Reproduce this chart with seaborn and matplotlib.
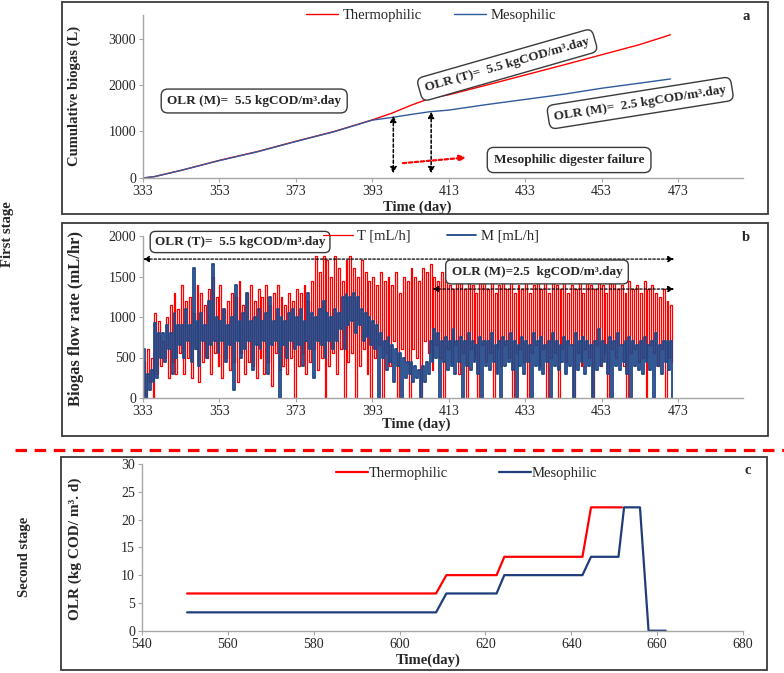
import numpy as np
import pandas as pd
import matplotlib
matplotlib.use("Agg")
import matplotlib.pyplot as plt
import seaborn as sns
from matplotlib.patches import Rectangle
from matplotlib.lines import Line2D

# style
sns.set_style("white")
plt.rcParams["font.family"] = ["Liberation Serif", "DejaVu Serif"]

RED = "#FF0000"
BLUE_A = "#2F5A9E"
BLUE_B = "#1F4788"
BLUE_C = "#1F3D7A"

# ---- data: panel a (cumulative biogas, L) ----
days_a = [333, 336, 343, 353, 363, 373, 383, 393, 398, 403, 408, 413, 423, 433, 443, 453, 463, 471]
cum_T = [0, 30, 165, 380, 570, 790, 1000, 1250, 1390, 1560, 1710, 1790, 2000, 2215, 2430, 2650, 2870, 3080]
cum_M = [0, 30, 165, 375, 565, 785, 995, 1245, 1300, 1365, 1425, 1460, 1580, 1690, 1800, 1930, 2040, 2130]

# ---- data: panel b (biogas flow rate, mL/h), daily peak / trough, days 333..471 ----
days_b = list(range(333, 472))
T_hi = [450, 600, 500, 1050, 950, 700, 1000, 1150, 1300, 1100,
        1400, 1200, 1250, 1050, 1400, 1300, 1150, 1350, 1500, 1250,
        1400, 1100, 1200, 1300, 1250, 1450, 1150, 1300, 1400, 1200,
        1350, 1250, 1400, 1150, 1300, 1400, 1250, 1150, 1300, 1200,
        1350, 1300, 1400, 1200, 1450, 1750, 1550, 1750, 1700, 1500,
        1750, 1600, 1450, 1700, 1750, 1600, 1500, 1700, 1550, 1450,
        1500, 1400, 1550, 1450, 1500, 1400, 1550, 1300, 1500, 1450,
        1600, 1500, 1450, 1600, 1550, 1650, 1500, 1450, 1550, 1500,
        1400, 1350, 1500, 1450, 1350, 1500, 1400, 1300, 1450, 1500,
        1350, 1450, 1300, 1400, 1500, 1350, 1450, 1300, 1400, 1350,
        1450, 1300, 1400, 1500, 1350, 1450, 1300, 1550, 1400, 1350,
        1450, 1300, 1400, 1350, 1500, 1300, 1450, 1400, 1350, 1450,
        1400, 1300, 1450, 1650, 1350, 1400, 1300, 1450, 1350, 1400,
        1300, 1450, 1350, 1400, 1300, 1250, 1350, 1200, 1150]
T_lo = [0, 200, 0, 300, 400, 500, 250, 450, 300, 550,
        300, 500, 250, 600, 200, 450, 500, 300, 550, 400,
        250, 500, 350, 450, 200, 550, 300, 450, 400, 250,
        500, 300, 450, 150, 550, 350, 400, 300, 500, 0,
        400, 550, 300, 450, 600, 350, 500, 0, 400, 550,
        300, 600, 0, 450, 550, 0, 400, 600, 300, 0,
        500, 650, 0, 550, 400, 700, 0, 600, 450, 0,
        600, 500, 0, 700, 550, 350, 650, 500, 0, 600,
        450, 650, 300, 550, 0, 600, 500, 0, 650, 450,
        550, 0, 600, 400, 650, 500, 0, 550, 600, 450,
        0, 550, 650, 400, 600, 0, 500, 550, 0, 600,
        450, 650, 0, 550, 400, 600, 500, 0, 650, 400,
        550, 0, 600, 500, 650, 400, 0, 550, 600, 450,
        500, 0, 650, 550, 400, 600, 0, 500, 450]
M_hi = [600, 300, 350, 930, 800, 800, 900, 800, 1050, 900,
        900, 1100, 900, 1600, 950, 1050, 900, 1200, 1650, 1000,
        950, 1100, 900, 1000, 1400, 950, 1050, 1300, 950, 1000,
        1100, 950, 1050, 1250, 950, 1100, 1000, 950, 1050, 1100,
        1000, 1100, 950, 1300, 1050, 1000, 1100, 1200, 1050, 1000,
        1100, 1050, 1250, 1280, 1250, 1300, 1250, 1100, 1050, 1000,
        950, 900, 800, 700, 750, 650, 600, 550, 500, 450,
        450, 400, 350, 400, 450, 700, 850, 800, 700, 750,
        700, 850, 700, 750, 700, 800, 700, 650, 750, 700,
        700, 800, 650, 700, 750, 700, 800, 700, 650, 750,
        700, 650, 800, 700, 750, 650, 700, 800, 700, 650,
        750, 700, 650, 800, 700, 750, 700, 650, 700, 850,
        700, 650, 750, 700, 800, 650, 700, 750, 700, 650,
        700, 750, 650, 700, 800, 650, 700, 700, 700]
M_lo = [0, 100, 200, 250, 500, 450, 600, 300, 500, 650,
        500, 700, 450, 600, 400, 700, 500, 650, 700, 550,
        700, 450, 650, 100, 700, 500, 600, 700, 350, 650,
        600, 700, 300, 650, 700, 0, 650, 500, 700, 600,
        650, 400, 700, 600, 250, 700, 650, 500, 700, 600,
        700, 850, 600, 900, 950, 800, 900, 700, 750, 650,
        600, 0, 500, 350, 450, 200, 400, 0, 250, 300,
        200, 250, 0, 200, 300, 450, 500, 0, 450, 350,
        400, 300, 450, 0, 400, 350, 450, 300, 0, 400,
        350, 450, 300, 0, 400, 450, 350, 0, 400, 300,
        450, 0, 400, 350, 300, 450, 0, 400, 350, 450,
        300, 400, 0, 350, 450, 300, 400, 0, 350, 400,
        450, 300, 0, 400, 350, 450, 300, 0, 400, 350,
        300, 450, 350, 0, 400, 300, 450, 350, 0]

# ---- data: panel c (second stage OLR) ----
days_cT = [550.5, 608.5, 610.9, 622.6, 624.4, 642.6, 644.6, 651.8]
olr_T = [6.7, 6.7, 10.0, 10.0, 13.3, 13.3, 22.2, 22.2]
days_cM = [550.5, 608.5, 610.9, 622.6, 624.4, 642.6, 644.6, 651.0, 652.3, 656.0, 658.0, 662.0]
olr_M = [3.3, 3.3, 6.7, 6.7, 10.0, 10.0, 13.3, 13.3, 22.2, 22.2, 0, 0]


def interleave(a, b):
    return np.column_stack([a, b]).ravel()


W, H = 784, 673
fig = plt.figure(figsize=(W / 100, H / 100), dpi=100)


def fx(px):
    return px / W


def fy(py):
    return 1 - py / H


def style_axes(ax):
    sns.despine(ax=ax)
    for s in ["left", "bottom"]:
        ax.spines[s].set_color("#A6A6A6")
        ax.spines[s].set_linewidth(1.0)
    ax.tick_params(axis="both", labelsize=10, length=3, color="#A6A6A6",
                   direction="out", pad=2, bottom=True, left=True)
    ax.set_facecolor("none")


box_kw = dict(boxstyle="round,pad=0.45,rounding_size=0.5", fc="white", ec="#3A3A3A", lw=1.0)
arr_kw = dict(arrowstyle="<|-|>", linestyle=(0, (2, 1.5)), lw=1.1, color="black",
              mutation_scale=9, shrinkA=0, shrinkB=0)

# ---- panel a ----
ax1 = fig.add_axes([fx(143), fy(178), fx(600), fy(15.25) - fy(178)])
df_a = pd.DataFrame({"day": days_a * 2, "val": cum_T + cum_M,
                     "grp": ["Thermophilic"] * len(days_a) + ["Mesophilic"] * len(days_a)})
sns.lineplot(data=df_a, x="day", y="val", hue="grp", palette=[RED, BLUE_A],
             lw=1.0, ax=ax1, legend=True)
ax1.set_xlim(333, 490)
ax1.set_ylim(0, 3500)
ax1.set_xticks(range(333, 474, 20))
ax1.set_yticks(range(0, 3001, 1000))
ax1.set_xlabel("")
ax1.set_ylabel("")
style_axes(ax1)
ax1.legend(loc="center", bbox_to_anchor=(0.48, 1.0), ncol=2, frameon=False,
           fontsize=10.5, handlelength=2.2, columnspacing=2.2, handletextpad=0.3)

ax1.text(362.1, 1656, "OLR (M)=  5.5 kgCOD/m³.day", ha="center", va="center",
         fontsize=9.5, fontweight="bold", bbox=box_kw)
ax1.text(428.3, 2430, "OLR (T)=  5.5 kgCOD/m³.day", ha="center", va="center",
         fontsize=9.5, fontweight="bold", rotation=16, rotation_mode="anchor", bbox=box_kw)
ax1.text(463.1, 1613, "OLR (M)=  2.5 kgCOD/m³.day", ha="center", va="center",
         fontsize=9.5, fontweight="bold", rotation=9, rotation_mode="anchor", bbox=box_kw)
ax1.text(444.5, 387, "Mesophilic digester failure", ha="center", va="center",
         fontsize=9.5, fontweight="bold",
         bbox=dict(boxstyle="round,pad=0.5,rounding_size=0.5", fc="white", ec="#3A3A3A", lw=1.0))
ax1.annotate("", xy=(398.5, 100), xytext=(398.5, 1340), arrowprops=arr_kw)
ax1.annotate("", xy=(408.4, 100), xytext=(408.4, 1425), arrowprops=arr_kw)
ax1.annotate("", xy=(417.5, 440), xytext=(401, 320),
             arrowprops=dict(arrowstyle="-|>", linestyle=(0, (1.5, 1.2)), lw=1.6, color=RED,
                             mutation_scale=9, shrinkA=0, shrinkB=0))

# ---- panel b ----
ax2 = fig.add_axes([fx(143), fy(398), fx(600), fy(236) - fy(398)])
tb = interleave(days_b, np.array(days_b) + 0.5)
sns.lineplot(x=tb, y=interleave(T_hi, T_lo), color=RED, lw=0.9, ax=ax2,
             drawstyle="steps-post", label="T [mL/h]", estimator=None)
sns.lineplot(x=tb, y=interleave(M_hi, M_lo), color=BLUE_B, lw=1.3, ax=ax2,
             drawstyle="steps-post", label="M [mL/h]", estimator=None)
ax2.set_xlim(333, 490)
ax2.set_ylim(0, 2000)
ax2.set_xticks(range(333, 474, 20))
ax2.set_yticks(range(0, 2001, 500))
ax2.set_xlabel("")
ax2.set_ylabel("")
style_axes(ax2)
ax2.legend(loc="center", bbox_to_anchor=(0.48, 1.0), ncol=2, frameon=False,
           fontsize=10.5, handlelength=2.0, columnspacing=2.5, handletextpad=0.3)
ax2.annotate("", xy=(333, 1715), xytext=(472, 1715),
             arrowprops=dict(arr_kw, lw=0.9))
ax2.annotate("", xy=(408.7, 1345), xytext=(472, 1345),
             arrowprops=dict(arr_kw, lw=0.9))
ax2.text(358.4, 1926, "OLR (T)=  5.5 kgCOD/m³.day", ha="center", va="center",
         fontsize=9.5, fontweight="bold",
         bbox=dict(boxstyle="round,pad=0.35,rounding_size=0.4", fc="white", ec="#3A3A3A", lw=1.0))
ax2.text(436.1, 1556, "OLR (M)=2.5  kgCOD/m³.day", ha="center", va="center",
         fontsize=9.5, fontweight="bold",
         bbox=dict(boxstyle="round,pad=0.45,rounding_size=0.4", fc="white", ec="#3A3A3A", lw=1.0))

# ---- panel c ----
ax3 = fig.add_axes([fx(142), fy(630.7), fx(601), fy(464) - fy(630.7)])
sns.lineplot(x=days_cT, y=olr_T, color=RED, lw=1.6, ax=ax3, label="Thermophilic", estimator=None)
sns.lineplot(x=days_cM, y=olr_M, color=BLUE_C, lw=1.6, ax=ax3, label="Mesophilic", estimator=None)
ax3.set_xlim(540, 680)
ax3.set_ylim(0, 30)
ax3.set_xticks(range(540, 681, 20))
ax3.set_yticks(range(0, 31, 5))
ax3.set_xlabel("")
ax3.set_ylabel("")
style_axes(ax3)
ax3.legend(loc="center", bbox_to_anchor=(0.54, 0.946), ncol=2, frameon=False,
           fontsize=10.5, handlelength=2.2, columnspacing=3.5, handletextpad=0.05)

# ---- labels ----
lab = dict(fontsize=10.5, fontweight="bold")
fig.text(fx(74), fy(96), "Cumulative biogas (L)", rotation=90, ha="center", va="center", **lab)
fig.text(fx(76), fy(318), "Biogas flow rate (mL/hr)", rotation=90, ha="center", va="center",
         fontsize=12, fontweight="bold")
fig.text(fx(75), fy(549), "OLR (kg COD/ m³. d)", rotation=90, ha="center", va="center",
         fontsize=11, fontweight="bold")
fig.text(fx(417), fy(207), "Time (day)", ha="center", va="center", **lab)
fig.text(fx(416), fy(424), "Time (day)", ha="center", va="center", **lab)
fig.text(fx(428), fy(660), "Time(day)", ha="center", va="center", **lab)
fig.text(fx(746), fy(16), "a", ha="center", va="center", **lab)
fig.text(fx(746), fy(237), "b", ha="center", va="center", **lab)
fig.text(fx(748), fy(470), "c", ha="center", va="center", **lab)
fig.text(fx(8), fy(234), "First stage", rotation=90, ha="center", va="center", **lab)
fig.text(fx(25), fy(557), "Second stage", rotation=90, ha="center", va="center", **lab)

# ---- panel frames and separator ----
for x0, y0, x1, y1 in [(62, 2, 768, 214), (62, 223, 768, 436), (61, 457, 767, 670)]:
    fig.add_artist(Rectangle((fx(x0), fy(y1)), fx(x1 - x0), fy(y0) - fy(y1),
                             transform=fig.transFigure, fill=False, ec="#3A3A3A", lw=1.3))
fig.add_artist(Line2D([fx(15), 1.0], [fy(450), fy(450)], transform=fig.transFigure,
                      color=RED, lw=2.3, dashes=(3.6, 2.4)))

plt.savefig("out.png", dpi=100)
